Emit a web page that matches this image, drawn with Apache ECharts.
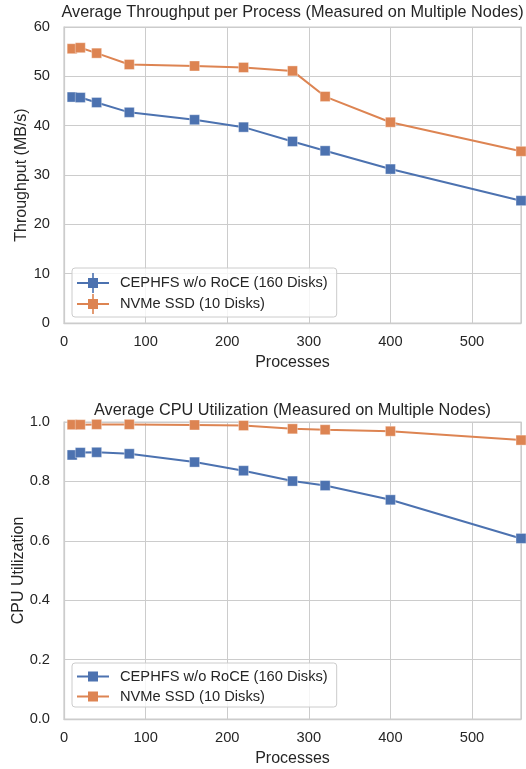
<!DOCTYPE html>
<html>
<head>
<meta charset="utf-8">
<script src="https://cdn.jsdelivr.net/npm/echarts@6/dist/echarts.min.js"></script>
<style>
html,body{margin:0;padding:0;background:#fff;}
#c{width:526px;height:769px;}
</style>
</head>
<body>
<div id="c"></div>
<script>
// ---- data ----
const processes = [10, 20, 40, 80, 160, 220, 280, 320, 400, 560];
const throughputCeph = [45.8, 45.7, 44.7, 42.7, 41.2, 39.7, 36.8, 34.9, 31.2, 24.8];
const throughputNvme = [55.6, 55.8, 54.7, 52.4, 52.1, 51.8, 51.1, 45.9, 40.7, 34.8];
const cpuCeph = [0.889, 0.897, 0.898, 0.893, 0.865, 0.836, 0.801, 0.786, 0.738, 0.608];
const cpuNvme = [0.991, 0.991, 0.992, 0.992, 0.990, 0.988, 0.977, 0.974, 0.969, 0.939];
const seriesNames = ['CEPHFS w/o RoCE (160 Disks)', 'NVMe SSD (10 Disks)'];
const titles = ['Average Throughput per Process (Measured on Multiple Nodes)', 'Average CPU Utilization (Measured on Multiple Nodes)'];
const xLabel = 'Processes';
const yLabels = ['Throughput (MB/s)', 'CPU Utilization'];

const colors = ['#4C72B0', '#DD8452'];
const FONT = '"Liberation Sans", Arial, sans-serif';
const TXT = '#262626';
const GRIDC = '#cccccc';

const pair = (xs, ys) => xs.map((x, i) => [x, ys[i]]);

// legend icons: line + square (+ error bar), single non-overlapping outlines
const iconErr = 'path://M0 9L11 9L11 5L15.2 5L15.2 0L16.8 0L16.8 5L21 5L21 9L32 9L32 11L21 11L21 15L16.8 15L16.8 20L15.2 20L15.2 15L11 15L11 11L0 11Z';
const iconPlain = 'path://M0 4L11 4L11 0L21 0L21 4L32 4L32 6L21 6L21 10L11 10L11 6L0 6Z';

function xAxisCfg(gi) {
  return {
    type: 'value', gridIndex: gi, min: 0, max: 560, interval: 100,
    name: xLabel, nameLocation: 'middle', nameGap: 32, nameMoveOverlap: false,
    nameTextStyle: {fontFamily: FONT, fontSize: 16, color: TXT},
    axisLine: {show: true, lineStyle: {color: GRIDC, width: 1.25}},
    axisTick: {show: false},
    axisLabel: {fontFamily: FONT, fontSize: 14.67, color: TXT, margin: 11,
      showMaxLabel: false},
    splitLine: {show: true, lineStyle: {color: GRIDC, width: 1}}
  };
}
function yAxisCfg(gi, max, interval, gap, fmt) {
  return {
    type: 'value', gridIndex: gi, min: 0, max: max, interval: interval,
    name: yLabels[gi], nameLocation: 'middle', nameGap: gap, nameRotate: 90,
    nameMoveOverlap: false,
    nameTextStyle: {fontFamily: FONT, fontSize: 16, color: TXT},
    axisLine: {show: true, lineStyle: {color: GRIDC, width: 1.25}},
    axisTick: {show: false},
    axisLabel: {fontFamily: FONT, fontSize: 14.67, color: TXT, margin: 14, formatter: fmt},
    splitLine: {show: true, lineStyle: {color: GRIDC, width: 1}}
  };
}
function lineSeries(name, gi, data, color) {
  return {
    type: 'line', name: name, xAxisIndex: gi, yAxisIndex: gi,
    data: data, symbol: 'rect', symbolSize: 10, showSymbol: true,
    lineStyle: {color: color, width: 2},
    itemStyle: {color: color, borderColor: 'rgba(255,255,255,0.6)', borderWidth: 0.6},
    emphasis: {disabled: true}, animation: false, clip: true
  };
}
function legendCfg(top, icon, ih, gap, padTop) {
  return {
    orient: 'vertical', left: 72, top: top,
    data: seriesNames.map(n => ({name: n, icon: icon})),
    itemWidth: 32, itemHeight: ih, itemGap: gap,
    padding: [padTop, 9, 3, 5],
    backgroundColor: 'rgba(255,255,255,0.8)',
    borderColor: GRIDC, borderWidth: 1, borderRadius: 3,
    itemStyle: {borderWidth: 0, opacity: 1},
    lineStyle: {opacity: 0},
    textStyle: {fontFamily: FONT, fontSize: 14.67, color: TXT, padding: [0, 0, 0, 6]},
    selectedMode: false
  };
}

const chart = echarts.init(document.getElementById('c'), null, {renderer: 'canvas'});
chart.setOption({
  backgroundColor: '#ffffff',
  animation: false,
  title: [
    {text: titles[0], left: 292.5, top: 5, textAlign: 'center', padding: 0,
      textStyle: {fontFamily: FONT, fontSize: 16.3, fontWeight: 'normal', color: TXT}},
    {text: titles[1], left: 292.5, top: 403, textAlign: 'center', padding: 0,
      textStyle: {fontFamily: FONT, fontSize: 16.3, fontWeight: 'normal', color: TXT}}
  ],
  grid: [
    {left: 64, top: 27, width: 457, height: 296, show: true, borderColor: GRIDC, borderWidth: 1.25, backgroundColor: 'transparent'},
    {left: 64, top: 422, width: 457, height: 297, show: true, borderColor: GRIDC, borderWidth: 1.25, backgroundColor: 'transparent'}
  ],
  xAxis: [xAxisCfg(0), xAxisCfg(1)],
  yAxis: [
    yAxisCfg(0, 60, 10, 34, v => String(v)),
    yAxisCfg(1, 1.0, 0.2, 37, v => v.toFixed(1))
  ],
  legend: [legendCfg(268, iconErr, 20, 1, 5), legendCfg(663, iconPlain, 10, 5, 6)],
  series: [
    lineSeries(seriesNames[0], 0, pair(processes, throughputCeph), colors[0]),
    lineSeries(seriesNames[1], 0, pair(processes, throughputNvme), colors[1]),
    lineSeries(seriesNames[0], 1, pair(processes, cpuCeph), colors[0]),
    lineSeries(seriesNames[1], 1, pair(processes, cpuNvme), colors[1])
  ]
});
</script>
</body>
</html>
